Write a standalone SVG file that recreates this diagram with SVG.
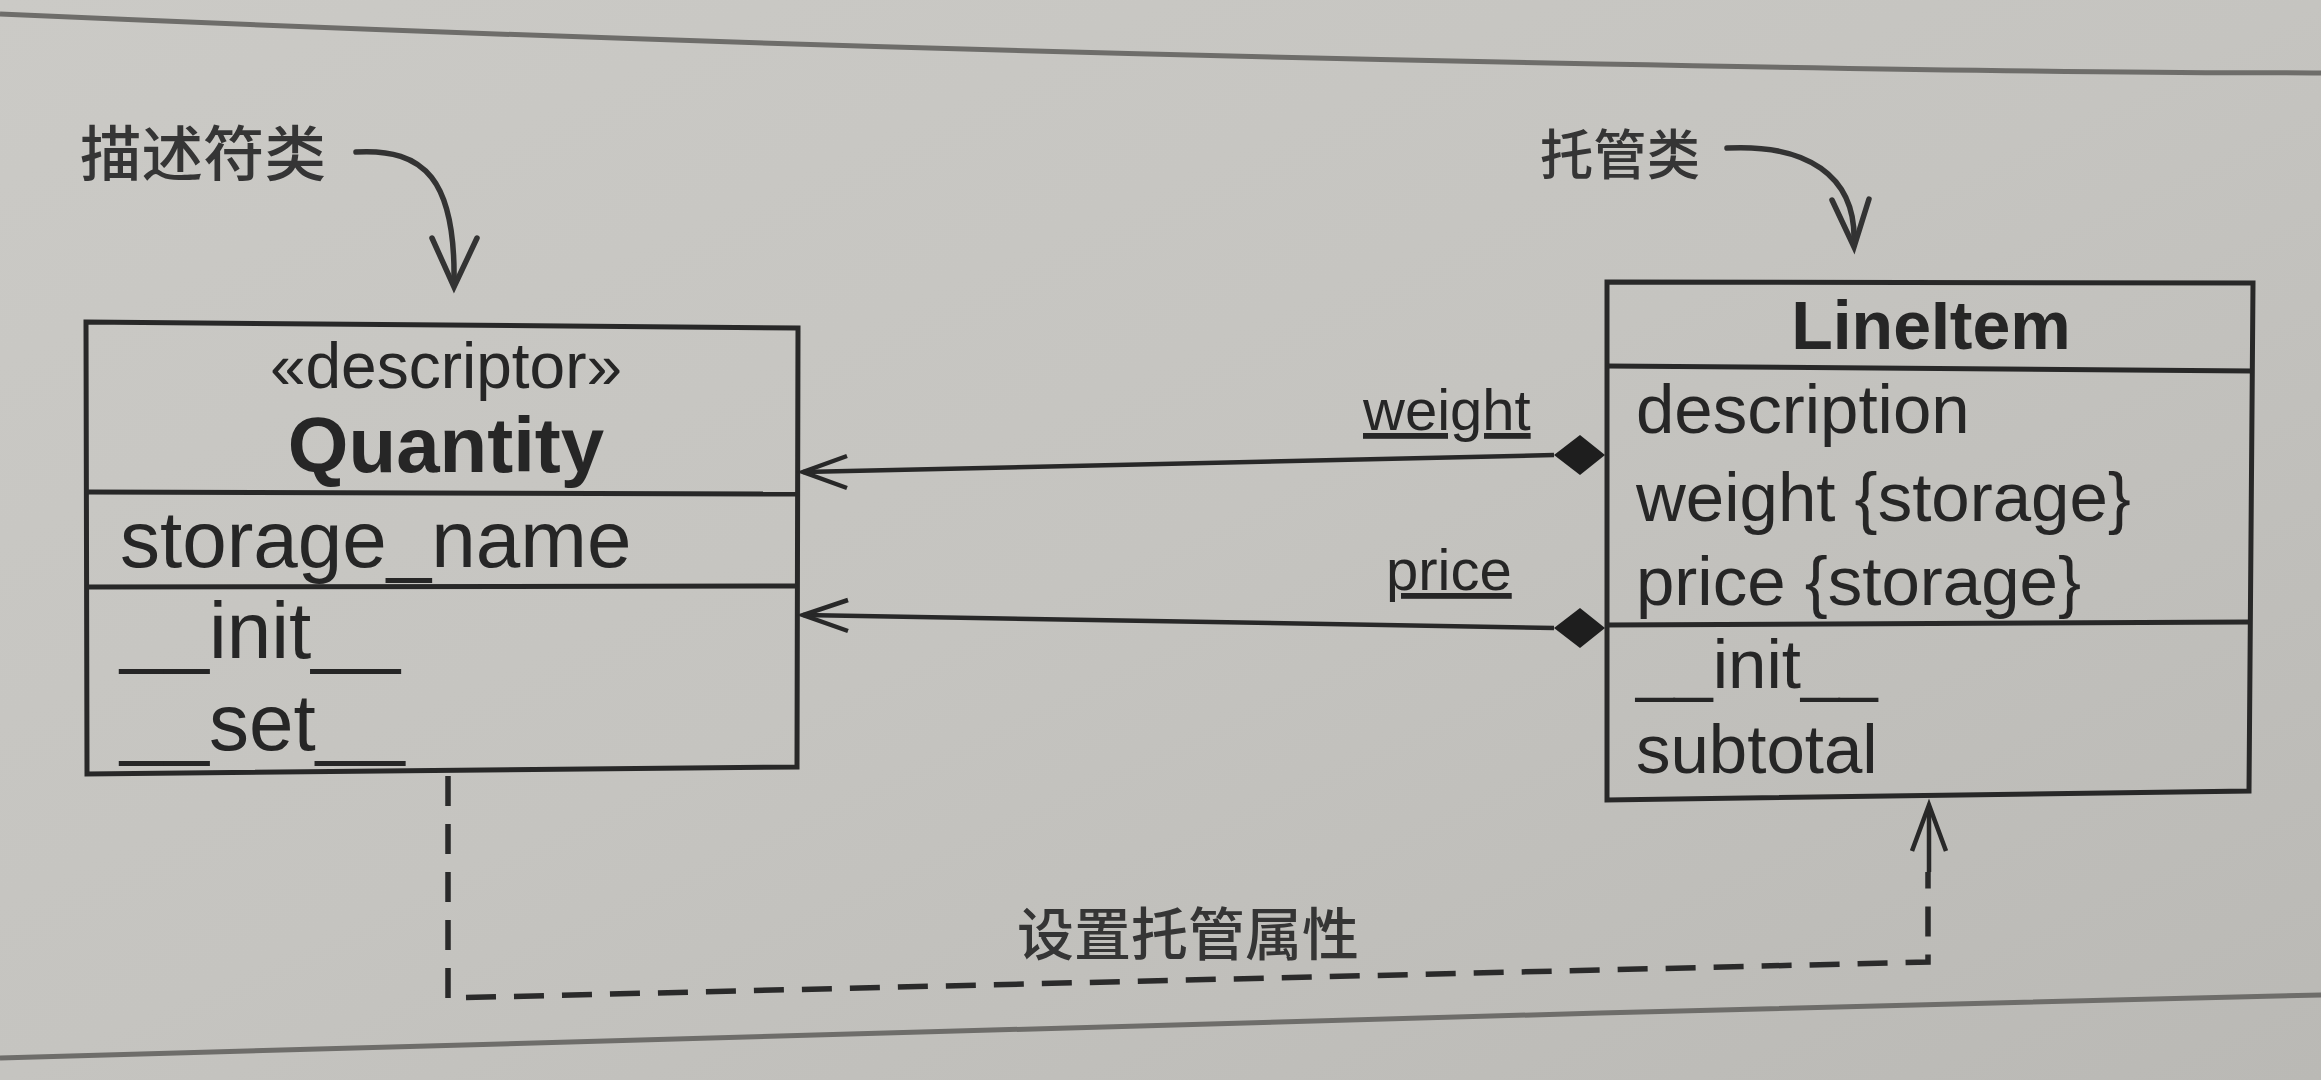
<svg xmlns="http://www.w3.org/2000/svg" width="2321" height="1080" viewBox="0 0 2321 1080">
<defs>
<linearGradient id="bg" x1="0" y1="0" x2="1" y2="1">
<stop offset="0" stop-color="#cbcac6"/>
<stop offset="0.5" stop-color="#c5c4c0"/>
<stop offset="1" stop-color="#bab9b5"/>
</linearGradient>
<style>
.box{fill:none;stroke:#282828;stroke-width:5;stroke-linejoin:miter}
.div{stroke:#282828;stroke-width:5}
.t{font-family:"Liberation Sans",Arial,sans-serif;fill:#262626}
.b{font-weight:bold}
.cn{font-family:"Noto Sans CJK SC","Noto Sans CJK TC",sans-serif;fill:#353535}
.line{fill:none;stroke:#282828;stroke-width:4.5}
.open{fill:none;stroke:#282828;stroke-width:4.5;stroke-linejoin:miter}
.dia{fill:#1e1e1e;stroke:none}
.dash{fill:none;stroke:#2a2a2a;stroke-width:5.5;stroke-dasharray:30 18}
.curve{fill:none;stroke:#333;stroke-width:5.5;stroke-linecap:round}
.rule{fill:none;stroke:#6e6d6a;stroke-width:5}
</style>
</defs>
<rect x="0" y="0" width="2321" height="1080" fill="url(#bg)"/>
<path class="rule" d="M0,14 C500,36 1000,53 1600,64 S2200,72 2321,73"/>
<path class="rule" d="M0,1058 C500,1045 1000,1030 1600,1013 S2200,998 2321,995"/>

<g id="label-descriptor">
<text class="cn" x="80" y="176" font-size="60" font-weight="500" textLength="246" lengthAdjust="spacingAndGlyphs">描述符类</text>
<path class="curve" d="M356,152 C425,148 456,180 454,284"/>
<polyline class="curve" points="432,238 454,287 477,238"/>
</g>

<g id="label-managed">
<text class="cn" x="1540" y="175" font-size="54" font-weight="500" textLength="160" lengthAdjust="spacingAndGlyphs">托管类</text>
<path class="curve" d="M1727,148 C1805,144 1857,174 1854,244"/>
<polyline class="curve" points="1832,200 1854,247 1869,199"/>
</g>

<g id="Quantity">
<polygon class="box" points="86,322 798,328 797,767 87,774"/>
<line class="div" x1="86" y1="492" x2="798" y2="494"/>
<line class="div" x1="86" y1="587" x2="798" y2="586"/>
<text class="t" x="446" y="388" font-size="64" text-anchor="middle">«descriptor»</text>
<text class="t b" x="446" y="472" font-size="78" text-anchor="middle">Quantity</text>
<text class="t" x="120" y="567" font-size="80">storage_name</text>
<text class="t" x="120" y="658" font-size="80">__init__</text>
<text class="t" x="120" y="750" font-size="80">__set__</text>
</g>

<g id="LineItem">
<polygon class="box" points="1607,282 2253,283 2249,791 1607,800"/>
<line class="div" x1="1607" y1="366" x2="2252" y2="371"/>
<line class="div" x1="1607" y1="625" x2="2251" y2="622"/>
<text class="t b" x="1931" y="349" font-size="68" text-anchor="middle">LineItem</text>
<text class="t" x="1636" y="433" font-size="69">description</text>
<text class="t" x="1636" y="521" font-size="69">weight {storage}</text>
<text class="t" x="1636" y="605" font-size="69">price {storage}</text>
<text class="t" x="1636" y="688" font-size="69">__init__</text>
<text class="t" x="1636" y="773" font-size="69">subtotal</text>
</g>

<g id="connectors">
<g id="weight-assoc">
<line class="line" x1="1554" y1="455" x2="803" y2="472"/>
<polyline class="open" points="847,456 803,472 847,488"/>
<polygon class="dia" points="1605,455 1580,435 1554,455 1580,475"/>
<text class="t" x="1363" y="430" font-size="58" text-decoration="underline">weight</text>
</g>
<g id="price-assoc">
<line class="line" x1="1554" y1="628" x2="803" y2="615"/>
<polyline class="open" points="848,600 803,615 848,631"/>
<polygon class="dia" points="1605,628 1580,608 1554,628 1580,648"/>
<text class="t" x="1386" y="590" font-size="58" text-decoration="underline">price</text>
</g>
<g id="sets-managed">
<path class="dash" d="M448,776 L448,998 L1928,962 L1928,872"/>
<line class="line" x1="1929" y1="872" x2="1929" y2="806"/>
<polyline class="open" points="1912,851 1929,805 1946,851"/>
<text class="cn" x="1017" y="955" font-size="57" font-weight="500" textLength="342" lengthAdjust="spacingAndGlyphs">设置托管属性</text>
</g>
</g>
</svg>
